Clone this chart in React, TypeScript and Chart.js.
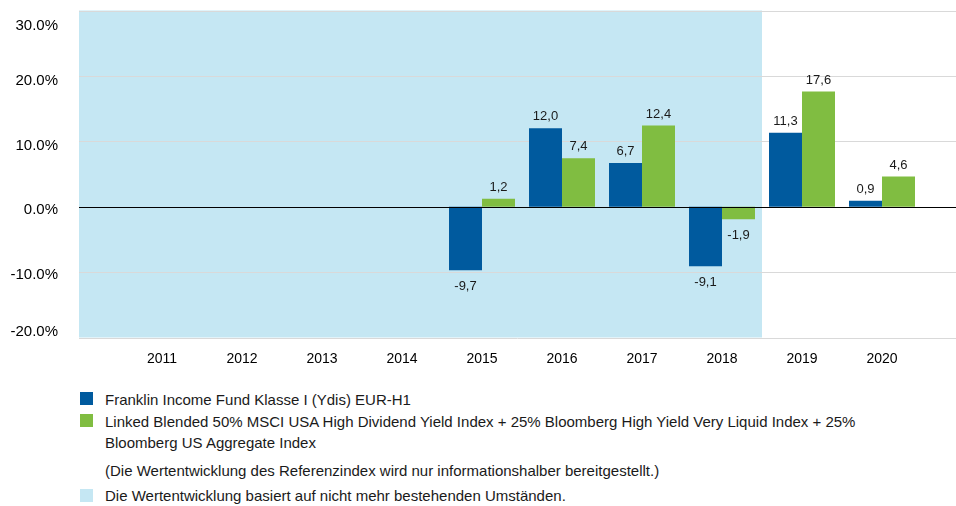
import React, { useEffect, useRef } from "react";
import { Chart, registerables } from "chart.js";

Chart.register(...registerables);

const years = ["2011", "2012", "2013", "2014", "2015", "2016", "2017", "2018", "2019", "2020"];
const fundValues: (number | null)[] = [null, null, null, null, -9.7, 12.0, 6.7, -9.1, 11.3, 0.9];
const indexValues: (number | null)[] = [null, null, null, null, 1.2, 7.4, 12.4, -1.9, 17.6, 4.6];
const yTicks = [-20, -10, 0, 10, 20, 30];
const shadedUntilIndex = 7; // 2018

const fundLabel = "Franklin Income Fund Klasse I (Ydis) EUR-H1";
const indexLabelLine1 =
  "Linked Blended 50% MSCI USA High Dividend Yield Index + 25% Bloomberg High Yield Very Liquid Index + 25%";
const indexLabelLine2 = "Bloomberg US Aggregate Index";
const noteText = "(Die Wertentwicklung des Referenzindex wird nur informationshalber bereitgestellt.)";
const shadeLabel = "Die Wertentwicklung basiert auf nicht mehr bestehenden Umständen.";

const BLUE = "#005A9E";
const GREEN = "#80BD41";
const SHADE = "#C5E7F3";
const GRID = "#D9D9D9";
const FONT = "'Liberation Sans', Arial, Helvetica, sans-serif";

const yLabelNudge = (v: number) => (v === 30 ? 15 : v === -20 ? -6 : v <= 0 ? 3 : 5);

const bgPlugin = {
  id: "bgPlugin",
  beforeDatasetsDraw(chart: any) {
    const { ctx, chartArea, scales } = chart;
    const x = scales.x;
    const y = scales.y;
    const left = 79;
    const right = chart.width;
    const boundary = (x.getPixelForValue(shadedUntilIndex) + x.getPixelForValue(shadedUntilIndex + 1)) / 2;
    ctx.save();
    ctx.fillStyle = SHADE;
    ctx.fillRect(left, chartArea.top, boundary - left, chartArea.bottom - chartArea.top);
    ctx.strokeStyle = GRID;
    ctx.lineWidth = 1;
    y.ticks.forEach((t: any) => {
      if (t.value === 0) return;
      const py = Math.round(y.getPixelForValue(t.value)) + 0.5;
      ctx.beginPath();
      ctx.moveTo(left, py);
      ctx.lineTo(right, py);
      ctx.stroke();
    });
    // y tick labels
    ctx.fillStyle = "#000";
    ctx.font = `15px ${FONT}`;
    ctx.textAlign = "right";
    ctx.textBaseline = "middle";
    y.ticks.forEach((t: any) => {
      const py = y.getPixelForValue(t.value) + yLabelNudge(t.value);
      ctx.fillText(Number(t.value).toFixed(1) + "%", 58, py);
    });
    ctx.restore();
  },
  afterDatasetsDraw(chart: any) {
    const { ctx, scales } = chart;
    const y = scales.y;
    ctx.save();
    const py = Math.round(y.getPixelForValue(0)) + 0.5;
    ctx.strokeStyle = "#000";
    ctx.lineWidth = 1.2;
    ctx.beginPath();
    ctx.moveTo(79, py);
    ctx.lineTo(chart.width, py);
    ctx.stroke();

    ctx.fillStyle = "#1a1a1a";
    ctx.font = `13px ${FONT}`;
    ctx.textAlign = "center";
    chart.data.datasets.forEach((ds: any, di: number) => {
      const meta = chart.getDatasetMeta(di);
      meta.data.forEach((el: any, i: number) => {
        const v = ds.data[i];
        if (v === null || v === undefined) return;
        const txt = v.toFixed(1).replace(".", ",");
        if (v >= 0) {
          ctx.textBaseline = "bottom";
          ctx.fillText(txt, el.x, el.y - 5);
        } else {
          ctx.textBaseline = "top";
          ctx.fillText(txt, el.x, el.y + 10);
        }
      });
    });
    ctx.restore();
  },
};

export default function App() {
  const canvasRef = useRef<HTMLCanvasElement | null>(null);

  useEffect(() => {
    if (!canvasRef.current) return;
    const chart = new Chart(canvasRef.current, {
      type: "bar",
      data: {
        labels: years,
        datasets: [
          {
            label: fundLabel,
            data: fundValues,
            backgroundColor: BLUE,
            categoryPercentage: 0.825,
            barPercentage: 1,
          },
          {
            label: indexLabelLine1 + " " + indexLabelLine2,
            data: indexValues,
            backgroundColor: GREEN,
            categoryPercentage: 0.825,
            barPercentage: 1,
          },
        ],
      },
      options: {
        animation: false,
        responsive: false,
        maintainAspectRatio: false,
        layout: { padding: { top: 10.5, right: 34, bottom: 12.5, left: 0 } },
        plugins: {
          legend: { display: false },
          tooltip: { enabled: false },
        },
        scales: {
          x: {
            grid: { display: false, drawTicks: false },
            border: { display: false },
            ticks: { color: "#000", font: { family: FONT, size: 14 }, padding: 13 },
            afterFit: (s: any) => {
              s.height = 30;
              s.paddingLeft = 0;
              s.paddingRight = 0;
            },
          },
          y: {
            min: -20,
            max: 30,
            grid: { display: false, drawTicks: false },
            border: { display: false },
            afterBuildTicks: (s: any) => {
              s.ticks = yTicks.map((v) => ({ value: v }));
            },
            ticks: { display: false },
            afterFit: (s: any) => {
              s.width = 122;
              s.paddingTop = 0;
              s.paddingBottom = 0;
            },
          },
        },
      },
      plugins: [bgPlugin],
    });
    return () => chart.destroy();
  }, []);

  const textStyle: React.CSSProperties = {
    position: "absolute",
    left: 105,
    fontFamily: FONT,
    fontSize: 15,
    color: "#1a1a1a",
    whiteSpace: "nowrap",
    lineHeight: "18px",
  };
  const sq = (top: number, color: string): React.CSSProperties => ({
    position: "absolute",
    left: 80,
    top,
    width: 13,
    height: 13,
    background: color,
  });

  return (
    <div style={{ position: "fixed", left: 0, top: 0, width: 956, height: 506, background: "#fff" }}>
      <canvas ref={canvasRef} width={956} height={380} style={{ position: "absolute", left: 0, top: 0 }} />
      <div style={sq(392, BLUE)} />
      <div style={{ ...textStyle, top: 391 }}>{fundLabel}</div>
      <div style={sq(414, GREEN)} />
      <div style={{ ...textStyle, top: 413 }}>{indexLabelLine1}</div>
      <div style={{ ...textStyle, top: 434 }}>{indexLabelLine2}</div>
      <div style={{ ...textStyle, top: 462 }}>{noteText}</div>
      <div style={sq(489, SHADE)} />
      <div style={{ ...textStyle, top: 487 }}>{shadeLabel}</div>
    </div>
  );
}
